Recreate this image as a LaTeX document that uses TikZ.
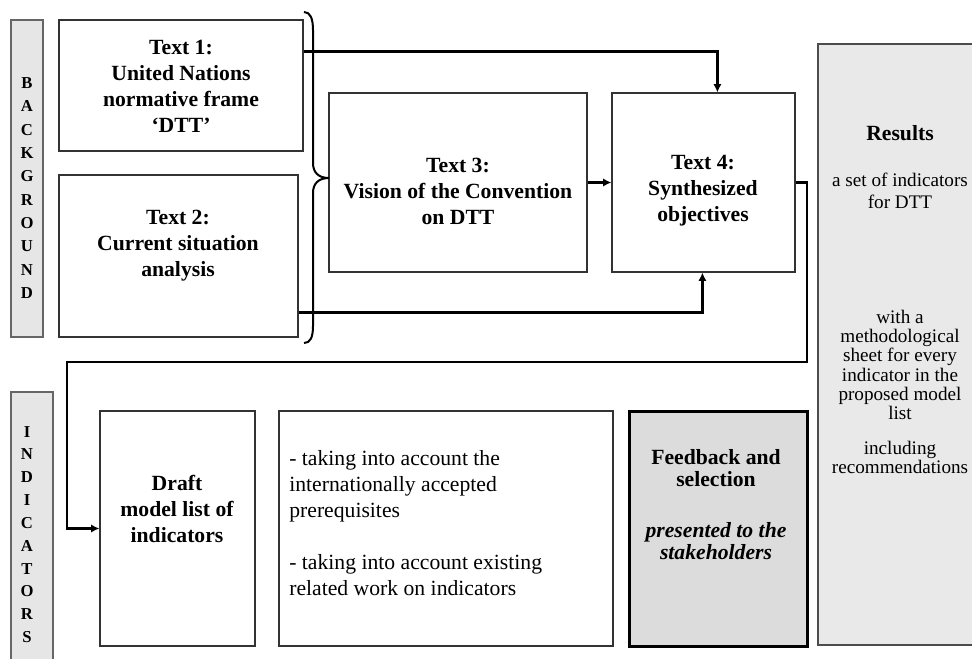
\documentclass[tikz,border=0pt]{standalone}
\usepackage{fontspec}
\setmainfont{Liberation Serif}
\usetikzlibrary{arrows.meta,fit,calc}
\definecolor{barfill}{HTML}{E6E6E6}
\definecolor{resfill}{HTML}{E9E9E9}
\definecolor{fbfill}{HTML}{DCDCDC}
\begin{document}
\begin{tikzpicture}[x=0.6pt,y=-0.6pt,
  box/.style={draw=black!80, line width=0.7pt, inner sep=0pt, fill=white},
  fbbox/.style={draw=black, line width=1.8pt, inner sep=0pt, fill=fbfill},
  barbox/.style={draw=black!60, line width=0.7pt, inner sep=0pt, fill=barfill},
  ttl/.style={align=center, inner sep=0pt, font=\fontsize{13}{15.6}\selectfont\bfseries},
  plain/.style={align=left, inner sep=0pt, font=\fontsize{13}{15.6}\selectfont},
  restxt/.style={align=center, inner sep=0pt, font=\fontsize{11.5}{11.5}\selectfont},
  vletters/.style={align=center, inner sep=0pt, font=\fontsize{10}{14}\selectfont\bfseries},
  arr/.style={line width=1.35pt, -{Latex[length=5pt,width=5pt]}},
  bracepath/.style={line width=1.2pt}
]
\useasboundingbox (0,0) rectangle (972,659);

% side bars
\node[barbox, fit={(11,20) (43,337)}] (bg) {};
\node[vletters] at (27,188) {B\\A\\C\\K\\G\\R\\O\\U\\N\\D};
\fill[barfill] (11,392) rectangle (53,659);
\draw[draw=black!60, line width=0.7pt] (11,659) -- (11,392) -- (53,392) -- (53,659);
\node[vletters, font=\fontsize{10}{13.7}\selectfont\bfseries] at (27,534.5) {I\\N\\D\\I\\C\\A\\T\\O\\R\\S};

% results column
\fill[resfill] (818,44) rectangle (972,645);
\draw[draw=black!70, line width=0.7pt] (972,44) -- (818,44) -- (818,645) -- (972,645);
\node[restxt, font=\fontsize{13}{15.6}\selectfont\bfseries] at (900,133) {Results};
\node[restxt, font=\fontsize{11.5}{13.2}\selectfont] at (900,191) {a set of indicators\\for DTT};
\node[restxt, font=\fontsize{11.5}{11.5}\selectfont] at (900,365) {with a\\methodological\\sheet for every\\indicator in the\\proposed model\\list};
\node[restxt, font=\fontsize{11.5}{11.2}\selectfont] at (900,457.5) {including\\recommendations};

% background boxes
\node[box, fit={(59,20) (303,151)}] (t1) {};
\node[ttl] at (181,86) {Text 1:\\United Nations\\normative frame\\‘DTT’};
\node[box, fit={(59,175) (298,337)}] (t2) {};
\node[ttl] at (178,246) {Text 2:\\Current situation\\analysis};
\node[box, fit={(329,93) (587,272)}] (t3) {};
\node[ttl] at (458,191) {Text 3:\\Vision of the Convention\\on DTT};
\node[box, fit={(612,93) (795,272)}] (t4) {};
\node[ttl] at (703,191) {Text 4:\\Synthesized\\objectives};

% brace
\draw[bracepath] (304,12) .. controls (310,12) and (313,18) .. (313,30)
  -- (313,163) .. controls (313,172) and (318,178) .. (329,178)
  .. controls (318,178) and (313,184) .. (313,193)
  -- (313,326) .. controls (313,338) and (310,343) .. (304,343);

% indicator boxes
\node[box, fit={(100,411) (255,646)}] (dr) {};
\node[ttl] at (177,509) {Draft\\model list of\\indicators};
\node[box, fit={(279,411) (613,646)}] (mid) {};
\node[plain, anchor=west] at (289,523) {- taking into account the\\internationally accepted\\prerequisites\\[15.6pt]- taking into account existing\\related work on indicators};
\node[fbbox, fit={(629,411) (807,646)}] (fb) {};
\node[ttl, font=\fontsize{13}{13.2}\selectfont\bfseries] at (716,504.5) {Feedback and\\selection\\[17pt]\textit{presented to the}\\\textit{stakeholders}};

% connectors
\coordinate (c1) at (807,362);
\coordinate (c2) at (67,362);
\draw[arr] ($(t1.north east)+(0,32)$) -| ($(t4.north west)+(106,0)$);
\draw[arr] ($(t2.north east)+(0,138)$) -| ($(t4.south west)+(91,0)$);
\draw[arr] (t3.east) -- (t4.west);
\draw[arr] (t4.east) -| (c1) -- (c2) |- (dr.west);
\end{tikzpicture}
\end{document}
